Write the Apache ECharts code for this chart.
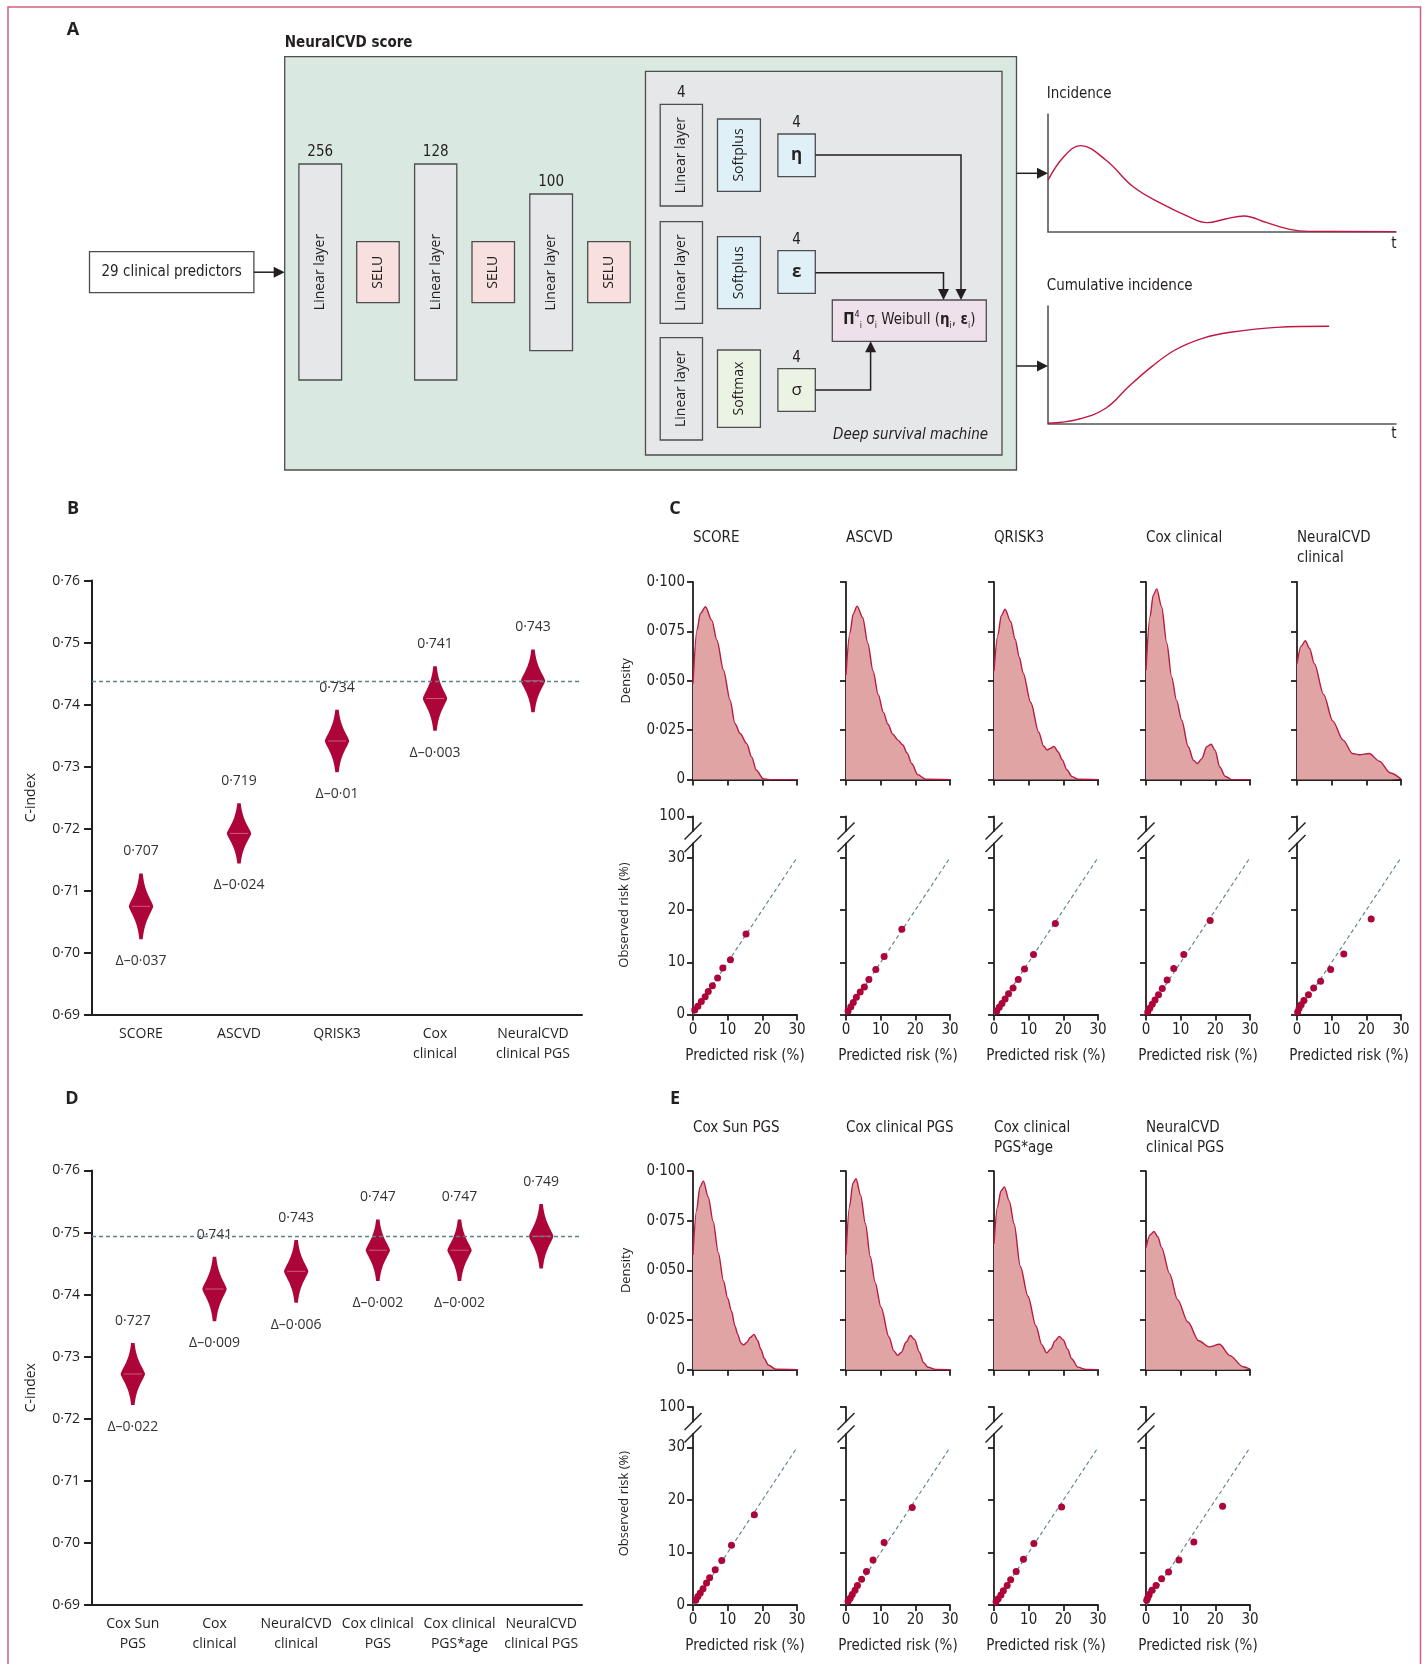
<!DOCTYPE html>
<html>
<head>
<meta charset="utf-8">
<title>NeuralCVD</title>
<script src="https://cdn.jsdelivr.net/npm/echarts@6.0.0/dist/echarts.min.js"></script>
<style>
  html, body { margin: 0; padding: 0; background: #fff; }
  #main { width: 1423px; height: 1664px; }
</style>
</head>
<body>
<div id="main"></div>
<script>
// ---------- data ----------

// panel A, schematic curves (x and y as fraction of the little axes)
var incidence = [[0, 0.44], [0.046, 0.64], [0.093, 0.733], [0.166, 0.611], [0.245, 0.383], [0.325, 0.241],
  [0.404, 0.128], [0.457, 0.077], [0.51, 0.108], [0.563, 0.134], [0.629, 0.077], [0.695, 0.02], [0.748, 0.003], [1, 0]];
var cumIncidence = [[0, 0], [0.086, 0.034], [0.166, 0.128], [0.232, 0.313], [0.298, 0.483], [0.365, 0.625],
  [0.444, 0.724], [0.524, 0.776], [0.657, 0.818], [0.808, 0.827]];

// panel B, C-index bootstrap spread
var bCats = ['SCORE', 'ASCVD', 'QRISK3', 'Cox\nclinical', 'NeuralCVD\nclinical PGS'];
var bValue = [0.707, 0.719, 0.734, 0.741, 0.743];
var bLow = [0.7022, 0.7144, 0.7291, 0.7358, 0.7388];
var bHigh = [0.7128, 0.7241, 0.7392, 0.7462, 0.7489];
var bDelta = [-0.037, -0.024, -0.01, -0.003, null];
var bRef = 0.7437;

// panel D
var dCats = ['Cox Sun\nPGS', 'Cox\nclinical', 'NeuralCVD\nclinical', 'Cox clinical\nPGS', 'Cox clinical\nPGS*age', 'NeuralCVD\nclinical PGS'];
var dValue = [0.727, 0.741, 0.743, 0.747, 0.747, 0.749];
var dLow = [0.7222, 0.7357, 0.7387, 0.7422, 0.7422, 0.7442];
var dHigh = [0.7322, 0.7461, 0.7488, 0.7521, 0.7521, 0.7546];
var dDelta = [-0.022, -0.009, -0.006, -0.002, -0.002, null];
var dRef = 0.7494;

// panel C, predicted risk densities  [risk %, density]
var densScore = [[0, 0.0486], [1.15, 0.0757], [2.1, 0.084], [3.6, 0.0875], [5.4, 0.0807], [6.9, 0.0706], [8.8, 0.0554],
  [10.7, 0.0402], [12.1, 0.0284], [13.6, 0.0233], [15.5, 0.0182], [16.9, 0.0115], [18.3, 0.0047], [20.2, 0.0005], [22, 0], [30, 0]];
var densAscvd = [[0, 0.053], [1.1, 0.074], [2.1, 0.084], [3.2, 0.0878], [4.8, 0.082], [6.3, 0.069], [7.8, 0.055], [9.3, 0.043],
  [10.8, 0.034], [12.1, 0.028], [13.5, 0.023], [15, 0.020], [16.4, 0.0175], [17.6, 0.0135], [19, 0.008], [20.7, 0.0025],
  [23, 0.0002], [30, 0]];
var densQrisk = [[0, 0.055], [1.1, 0.073], [2.1, 0.083], [3.2, 0.0862], [4.8, 0.080], [6.1, 0.071], [7.3, 0.062], [8.4, 0.054],
  [10.6, 0.039], [12.9, 0.024], [14.3, 0.017], [15.3, 0.015], [16.3, 0.0158], [17.3, 0.0168], [18.5, 0.014], [19.7, 0.010],
  [21, 0.005], [22.5, 0.0015], [24.2, 0.0002], [30, 0]];
var densCox = [[0, 0.0554], [1.15, 0.0824], [2.1, 0.0934], [3.1, 0.0965], [4.5, 0.0875], [6.0, 0.069], [7.4, 0.052], [8.8, 0.0402],
  [10.3, 0.030], [12.2, 0.0166], [13.7, 0.0098], [14.8, 0.0081], [16.1, 0.0106], [17.5, 0.0166], [18.8, 0.0179], [19.9, 0.0149],
  [21.3, 0.0064], [22.8, 0.0017], [24.7, 0], [30, 0]];
var densNeural = [[0, 0.0587], [1.2, 0.0675], [2.4, 0.0703], [3.6, 0.0665], [5.0, 0.0587], [7.7, 0.043], [10.3, 0.0297],
  [13.3, 0.020], [16, 0.0132], [18, 0.0126], [20.8, 0.0132], [23.8, 0.0093], [26.8, 0.0035], [30, 0.0003]];

// panel C, calibration deciles [predicted %, observed %]
var calScore = [[0.5, 0.9], [1.4, 1.6], [2.4, 2.5], [3.5, 3.4], [4.4, 4.4], [5.6, 5.5], [7.1, 7.0], [8.6, 8.9], [10.8, 10.5], [15.3, 15.4]];
var calAscvd = [[0.6, 0.7], [1.4, 1.5], [2.1, 2.3], [3.0, 3.3], [4.1, 4.3], [5.3, 5.3], [6.6, 6.7], [8.6, 8.6], [11.0, 11.1], [16.1, 16.3]];
var calQrisk = [[0.8, 0.7], [1.5, 1.4], [2.3, 2.1], [3.2, 3.0], [4.2, 4.0], [5.5, 5.1], [7.0, 6.7], [8.8, 8.7], [11.4, 11.5], [17.7, 17.4]];
var calCox = [[0.5, 0.5], [1.1, 1.2], [1.8, 2.0], [2.6, 2.8], [3.6, 3.8], [4.7, 5.0], [6.1, 6.6], [8.0, 8.8], [10.9, 11.5], [18.5, 18.0]];
var calNeural = [[0.2, 0.5], [0.6, 1.2], [1.2, 1.9], [2.0, 2.7], [3.3, 3.8], [4.8, 5.1], [6.8, 6.4], [9.7, 8.6], [13.5, 11.6], [21.4, 18.3]];

// panel E
var densSunPgs = [[0, 0.0578], [1, 0.08], [2, 0.092], [3.0, 0.095], [4.4, 0.087], [5.8, 0.0747], [7.3, 0.059], [8.8, 0.0447],
  [10, 0.036], [11.1, 0.0296], [12.1, 0.022], [12.9, 0.0178], [13.8, 0.0135], [14.6, 0.0125], [15.5, 0.0137], [16.5, 0.0162],
  [17.6, 0.0178], [18.6, 0.0148], [19.6, 0.0102], [20.6, 0.0055], [21.7, 0.0024], [23.9, 0.0002], [30, 0]];
var densCoxPgs = [[0, 0.0578], [1, 0.082], [2, 0.094], [2.9, 0.0962], [4.2, 0.088], [5.6, 0.0735], [7.0, 0.057], [8.4, 0.044],
  [10.1, 0.0315], [12.4, 0.0165], [13.8, 0.0095], [14.9, 0.0072], [16.0, 0.0088], [17.3, 0.0138], [18.6, 0.0172], [19.8, 0.0152],
  [21.1, 0.009], [22.4, 0.0035], [23.7, 0.0012], [25.9, 0.0001], [30, 0]];
var densCoxPgsAge = [[0, 0.0634], [1, 0.082], [2, 0.09], [3.0, 0.0921], [4.4, 0.085], [5.8, 0.0735], [7.6, 0.052], [9.8, 0.037],
  [12.1, 0.022], [13.8, 0.0125], [15.2, 0.0085], [16.4, 0.0105], [17.6, 0.0145], [18.8, 0.0168], [20, 0.015], [21.2, 0.0105],
  [22.4, 0.0055], [24.2, 0.0013], [26.5, 0.0001], [30, 0]];
var densNeuralPgs = [[0, 0.0615], [1.2, 0.068], [2.3, 0.0696], [3.4, 0.067], [4.5, 0.0615], [6.8, 0.0484], [9.1, 0.0353],
  [12.1, 0.024], [15.2, 0.0146], [18.2, 0.0115], [21.2, 0.0128], [24.2, 0.0071], [28, 0.0015], [30, 0.0003]];

var calSunPgs = [[0.8, 0.9], [1.4, 1.6], [2.1, 2.3], [2.9, 3.1], [3.9, 4.2], [4.8, 5.2], [6.4, 6.7], [8.3, 8.5], [11.1, 11.4], [17.7, 17.2]];
var calCoxPgs = [[0.6, 0.7], [1.2, 1.3], [1.8, 2.0], [2.6, 2.8], [3.3, 3.7], [4.5, 4.9], [5.9, 6.4], [7.8, 8.6], [11.0, 11.9], [19.1, 18.6]];
var calCoxPgsAge = [[0.6, 0.6], [1.2, 1.2], [2.0, 1.9], [2.7, 2.7], [3.8, 3.7], [4.8, 4.8], [6.4, 6.4], [8.5, 8.7], [11.5, 11.7], [19.5, 18.7]];
var calNeuralPgs = [[0.2, 0.9], [0.5, 1.4], [0.9, 2.0], [1.7, 2.8], [2.9, 3.7], [4.5, 5.0], [6.5, 6.3], [9.5, 8.6], [13.8, 12.0], [22.1, 18.8]];

var cTitles = ['SCORE', 'ASCVD', 'QRISK3', 'Cox clinical', 'NeuralCVD\nclinical'];
var cDensity = [densScore, densAscvd, densQrisk, densCox, densNeural];
var cCalib = [calScore, calAscvd, calQrisk, calCox, calNeural];
var eTitles = ['Cox Sun PGS', 'Cox clinical PGS', 'Cox clinical\nPGS*age', 'NeuralCVD\nclinical PGS'];
var eDensity = [densSunPgs, densCoxPgs, densCoxPgsAge, densNeuralPgs];
var eCalib = [calSunPgs, calCoxPgs, calCoxPgsAge, calNeuralPgs];

var riskTicks = [0, 10, 20, 30];
var calTicks = [0, 10, 20, 30];
var calTop = [100];
var calDiagonal = [[0, 0], [30, 30]];

// ---------- style ----------
var ink = '#231f20';
var crimson = '#ad0539';
var densLine = '#b81b42';
var densFill = '#e1a4a4';
var refColor = '#5f7f8d';
var narrow = "'Liberation Sans Narrow', 'DejaVu Sans Condensed', 'Roboto Condensed', Roboto, sans-serif";
var sans = "'Open Sans', 'Noto Sans', sans-serif";

var grids = [], xAxes = [], yAxes = [], series = [], graphics = [];

function dot(v) { return String(v).replace('.', '\u00b7'); }

function addGrid(grid, xa, ya) {
  var k = grids.length;
  grids.push(grid);
  xa.gridIndex = k;
  ya.gridIndex = k;
  xAxes.push(xa);
  yAxes.push(ya);
  return k;
}

// thin black value axis used in the small multiples
function valueAxis(o) {
  var a = {
    type: 'value',
    splitLine: { show: false },
    axisLine: { show: true, onZero: false, lineStyle: { color: ink, width: 1.8 } },
    axisTick: { show: true, length: 6, lineStyle: { color: ink, width: 1.8 } },
    axisLabel: { show: false, color: ink, fontFamily: narrow, fontSize: 15, margin: 8 }
  };
  for (var k in o) {
    if (o[k] && typeof o[k] === 'object' && !Array.isArray(o[k]) && a[k]) Object.assign(a[k], o[k]);
    else a[k] = o[k];
  }
  return a;
}

function text(x, y, s, font, extra) {
  var st = { text: s, font: font, fill: ink, textAlign: 'left', textVerticalAlign: 'middle' };
  for (var k in extra) st[k] = extra[k];
  graphics.push({ type: 'text', x: x, y: y, style: st, z: 10 });
}

function vtext(x, y, s, font) {
  graphics.push({ type: 'text', x: x, y: y, rotation: Math.PI / 2, z: 10,
    style: { text: s, font: font, fill: ink, textAlign: 'center', textVerticalAlign: 'middle' } });
}

// ---------- panel A : schematic ----------
function box(x, y, w, h, fill) {
  graphics.push({ type: 'rect', shape: { x: x, y: y, width: w, height: h }, z: 5,
    style: { fill: fill, stroke: '#4d4d4f', lineWidth: 1.3 } });
}
function poly(pts) {
  graphics.push({ type: 'polyline', shape: { points: pts }, z: 6, style: { stroke: ink, lineWidth: 1.5, fill: null } });
}
function head(x, y, dir) {
  var l = 11, s = 5.5, p;
  if (dir === 'right') p = [[x, y], [x - l, y - s], [x - l, y + s]];
  else if (dir === 'down') p = [[x, y], [x - s, y - l], [x + s, y - l]];
  else p = [[x, y], [x - s, y + l], [x + s, y + l]];
  graphics.push({ type: 'polygon', shape: { points: p }, z: 7, style: { fill: ink } });
}

var grey = '#e6e7e9', pink = '#f7e0dd', blue = '#e0f0f7', green = '#ebf4e4';

box(284.7, 56.7, 731.8, 413.3, '#d9e8e1');
box(645.5, 71.3, 356.5, 383.7, '#e6e7e9');
box(89.5, 251.7, 164.4, 41, '#fff');
text(171.7, 272.2, '29 clinical predictors', '15px ' + narrow, { textAlign: 'center' });
poly([[253.9, 272.2], [276, 272.2]]);
head(284.7, 272.2, 'right');
text(284.7, 43, 'NeuralCVD score', 'bold 15px ' + narrow);

var layerBoxes = [[298.9, 164, 42.7, 216, '256'], [414.6, 164, 42.2, 216, '128'], [529.8, 194, 42.7, 156.7, '100']];
layerBoxes.forEach(function (b) {
  box(b[0], b[1], b[2], b[3], grey);
  vtext(b[0] + b[2] / 2, b[1] + b[3] / 2, 'Linear layer', '14px ' + sans);
  text(b[0] + b[2] / 2, b[1] - 12, b[4], '15px ' + narrow, { textAlign: 'center' });
});
[356.7, 472, 587.7].forEach(function (x) {
  box(x, 241.7, 42.5, 61, pink);
  vtext(x + 21.2, 272.2, 'SELU', '14px ' + sans);
});
[[104.3, 101.7], [221.7, 101.6], [337.7, 102.3]].forEach(function (b) {
  box(660.2, b[0], 42.3, b[1], grey);
  vtext(681.3, b[0] + b[1] / 2, 'Linear layer', '14px ' + sans);
});
text(681.3, 93, '4', '15px ' + narrow, { textAlign: 'center' });
box(717.5, 119, 42.9, 72.3, blue); vtext(739, 155, 'Softplus', '14px ' + sans);
box(717.5, 236.7, 42.9, 72, blue); vtext(739, 272.7, 'Softplus', '14px ' + sans);
box(717.5, 350, 42.9, 77.3, green); vtext(739, 388.6, 'Softmax', '14px ' + sans);
[[134, blue, '\u03b7', 'bold'], [250.7, blue, '\u03b5', 'bold'], [368.7, green, '\u03c3', 'normal']].forEach(function (b) {
  box(777.9, b[0], 37.4, 42.7, b[1]);
  text(796.6, b[0] + 21.3, b[2], b[3] + ' 17px ' + sans, { textAlign: 'center' });
  text(796.6, b[0] - 11, '4', '15px ' + narrow, { textAlign: 'center' });
});
box(832.3, 300, 154, 41.3, '#efe1eb');
graphics.push({ type: 'text', x: 909.3, y: 320.6, z: 10, style: {
  text: '{b|\u03a0}{sup|4}{sub|i} \u03c3{sub|i} Weibull ({b|\u03b7}{sub|i}, {b|\u03b5}{sub|i})',
  font: '15px ' + narrow, fill: ink, textAlign: 'center', textVerticalAlign: 'middle', lineHeight: 20,
  rich: {
    b: { fontWeight: 'bold', fontSize: 15, fontFamily: narrow, lineHeight: 20 },
    sup: { fontSize: 9, fontFamily: narrow, verticalAlign: 'top', lineHeight: 20 },
    sub: { fontSize: 9, fontFamily: narrow, verticalAlign: 'bottom', lineHeight: 20 }
  }
} });
poly([[815.3, 155], [961, 155], [961, 290]]); head(961, 300, 'down');
poly([[815.3, 272.7], [943.5, 272.7], [943.5, 290]]); head(943.5, 300, 'down');
poly([[815.3, 390], [870.6, 390], [870.6, 351]]); head(870.6, 341.3, 'up');
text(988, 435, 'Deep survival machine', 'italic 15px ' + narrow, { textAlign: 'right' });

poly([[1016.5, 173.3], [1038, 173.3]]); head(1048, 173.3, 'right');
poly([[1016.5, 366], [1038, 366]]); head(1048, 366, 'right');
text(1046.7, 94, 'Incidence', '15px ' + narrow);
text(1046.7, 286, 'Cumulative incidence', '15px ' + narrow);
text(1394, 244, 't', '15px ' + narrow, { textAlign: 'center' });
text(1394, 434, 't', '15px ' + narrow, { textAlign: 'center' });

[[114.3, 117.4, incidence], [306, 117.3, cumIncidence]].forEach(function (g) {
  var noTicks = { axisTick: { show: false }, axisLine: { show: true, onZero: false, lineStyle: { color: '#555', width: 1.6 } } };
  var k = addGrid({ left: 1048, top: g[0], width: 348, height: g[1] },
    valueAxis(Object.assign({ min: 0, max: 1 }, noTicks)),
    valueAxis(Object.assign({ min: 0, max: 1 }, noTicks)));
  series.push({ type: 'line', xAxisIndex: k, yAxisIndex: k, data: g[2], smooth: 0.4, showSymbol: false,
    lineStyle: { color: '#c0163f', width: 1.4 }, z: 3 });
});

// ---------- panels B and D : C-index spreads ----------
function violinPanel(cats, lows, highs, vals, deltas, ref, top) {
  var k = addGrid({ left: 92, top: top, width: 490, height: 434.3 },
    {
      type: 'category', data: cats, boundaryGap: true,
      axisLine: { lineStyle: { color: ink, width: 2 } },
      axisTick: { length: 8, alignWithLabel: false, lineStyle: { color: ink, width: 2 } },
      axisLabel: { color: ink, fontFamily: sans, fontSize: 14, lineHeight: 20, margin: 9, interval: 0 }
    },
    {
      type: 'value', min: 0.69, max: 0.76, interval: 0.01,
      splitLine: { show: false },
      axisLine: { show: true, lineStyle: { color: ink, width: 2 } },
      axisTick: { show: true, length: 8, lineStyle: { color: ink, width: 2 } },
      axisLabel: { color: ink, fontFamily: sans, fontSize: 14, margin: 12,
        formatter: function (v) { return dot(v.toFixed(2)); } },
      name: 'C-index', nameLocation: 'middle', nameGap: 54,
      nameTextStyle: { fontFamily: sans, fontSize: 14, color: ink }
    });

  // dashed reference line at the best model
  series.push({ type: 'line', xAxisIndex: k, yAxisIndex: k, data: [], z: 1,
    markLine: { silent: true, symbol: 'none', precision: 4, label: { show: false }, animation: false,
      lineStyle: { color: refColor, type: [4, 3], width: 1.3 }, data: [{ yAxis: ref }] } });

  var data = lows.map(function (lo, i) { return [i, lo, highs[i]]; });
  series.push({
    type: 'custom', xAxisIndex: k, yAxisIndex: k, z: 3, data: data,
    encode: { x: 0, y: [1, 2] },
    renderItem: function (params, api) {
      var i = api.value(0), lo = api.value(1), hi = api.value(2);
      var mid = (lo + hi) / 2, sd = (hi - lo) / 6;
      var right = [], left = [];
      for (var s = 0; s <= 60; s++) {
        var v = lo + (hi - lo) * s / 60;
        var z = Math.abs(v - mid) / sd;
        var w = 11.5 * Math.exp(-0.55 * Math.pow(z, 1.35)) + 0.7;
        var p = api.coord([i, v]);
        right.push([p[0] + w, p[1]]);
        left.unshift([p[0] - w, p[1]]);
      }
      var c = api.coord([i, mid]), t = api.coord([i, hi]), b = api.coord([i, lo]);
      var kids = [
        { type: 'polygon', shape: { points: right.concat(left) }, style: { fill: crimson } },
        { type: 'line', shape: { x1: c[0] - 9, y1: c[1], x2: c[0] + 9, y2: c[1] },
          style: { stroke: 'rgba(255,255,255,0.35)', lineWidth: 1 } },
        { type: 'text', x: t[0], y: t[1] - 22, z2: 5,
          style: { text: dot(vals[params.dataIndex]), font: '14px ' + sans, fill: '#333',
            textAlign: 'center', textVerticalAlign: 'middle', backgroundColor: '#fff', padding: [1, 3] } }
      ];
      var d = deltas[params.dataIndex];
      if (d !== null) {
        kids.push({ type: 'text', x: b[0], y: b[1] + 22,
          style: { text: '\u0394\u2013' + dot(Math.abs(d)), font: '14px ' + sans, fill: '#333',
            textAlign: 'center', textVerticalAlign: 'middle' } });
      }
      return { type: 'group', children: kids };
    }
  });
}

violinPanel(bCats, bLow, bHigh, bValue, bDelta, bRef, 580.6);
violinPanel(dCats, dLow, dHigh, dValue, dDelta, dRef, 1170.5);

// ---------- panels C and E : density + calibration ----------
var colW = 104;
function smallMultiples(titles, dens, cals, geo) {
  var ymax = 30 * (geo.cal0 - geo.calLow) / (geo.cal0 - geo.cal30);
  for (var j = 0; j < titles.length; j++) {
    var x0 = geo.cols[j], first = j === 0;
    graphics.push({ type: 'text', x: x0, y: geo.titleY, z: 10,
      style: { text: titles[j], font: '15px ' + narrow, fill: ink, textAlign: 'left', textVerticalAlign: 'top', lineHeight: 20 } });

    // density of predicted risk
    var k = addGrid({ left: x0, top: geo.densTop, width: colW, height: geo.densBottom - geo.densTop },
      valueAxis({ min: 0, max: 30, interval: 10 }),
      valueAxis({ min: 0, max: 0.1, interval: 0.025,
        axisLabel: { show: first, formatter: function (v) { return v === 0 ? '0' : dot(v.toFixed(3)); } },
        name: first ? 'Density' : '', nameLocation: 'middle', nameGap: 60,
        nameTextStyle: { fontFamily: sans, fontSize: 13, color: ink } }));
    series.push({ type: 'line', xAxisIndex: k, yAxisIndex: k, data: dens[j], smooth: 0.3, smoothMonotone: 'x',
      showSymbol: false, lineStyle: { color: densLine, width: 1.4 }, areaStyle: { color: densFill, opacity: 1 }, z: 2 });

    // calibration, upper stub of the broken axis (100)
    addGrid({ left: x0, top: geo.cal100, width: colW, height: geo.calBreak - geo.cal100 },
      valueAxis({ show: false, min: 0, max: 30 }),
      valueAxis({ min: 90, max: 100,
        axisTick: { customValues: calTop },
        axisLabel: { show: first, customValues: calTop } }));

    // calibration, main part 0-30
    var kc = addGrid({ left: x0, top: geo.calLow, width: colW, height: geo.cal0 - geo.calLow },
      valueAxis({ min: 0, max: 30, interval: 10,
        axisLabel: { show: true, customValues: riskTicks },
        axisTick: { customValues: riskTicks },
        name: 'Predicted risk (%)', nameLocation: 'middle', nameGap: 34,
        nameTextStyle: { fontFamily: narrow, fontSize: 15, color: ink } }),
      valueAxis({ min: 0, max: ymax,
        axisTick: { customValues: calTicks },
        axisLabel: { show: first, customValues: calTicks } }));
    series.push({ type: 'line', xAxisIndex: kc, yAxisIndex: kc, data: calDiagonal, showSymbol: false, z: 2,
      lineStyle: { color: refColor, type: [4, 3], width: 1.1 } });
    series.push({ type: 'scatter', xAxisIndex: kc, yAxisIndex: kc, data: cals[j], symbolSize: 7, z: 3,
      itemStyle: { color: crimson, opacity: 1 } });

    // break marks on the y axis
    [geo.calBreak, geo.calLow].forEach(function (yc) {
      graphics.push({ type: 'line', z: 10, shape: { x1: x0 - 8.5, y1: yc + 8.5, x2: x0 + 8.5, y2: yc - 8.5 },
        style: { stroke: ink, lineWidth: 1.4 } });
    });
  }
  vtext(624, geo.obsY, 'Observed risk (%)', '13px ' + sans);
}

var colsX = [693, 846, 994, 1146, 1297];
smallMultiples(cTitles, cDensity, cCalib, { cols: colsX, titleY: 528, densTop: 582, densBottom: 779.6,
  cal100: 816.5, calBreak: 831, calLow: 843.5, cal30: 857.7, cal0: 1014.6, obsY: 915 });
smallMultiples(eTitles, eDensity, eCalib, { cols: colsX, titleY: 1118, densTop: 1171.2, densBottom: 1369.7,
  cal100: 1407, calBreak: 1421.5, calLow: 1434, cal30: 1447.6, cal0: 1605, obsY: 1503.6 });

// panel letters and frame
text(73, 30, 'A', 'bold 18px ' + sans, { textAlign: 'center' });
text(73, 509, 'B', 'bold 18px ' + sans, { textAlign: 'center' });
text(675, 509, 'C', 'bold 18px ' + sans, { textAlign: 'center' });
text(72, 1099, 'D', 'bold 18px ' + sans, { textAlign: 'center' });
text(675, 1099, 'E', 'bold 18px ' + sans, { textAlign: 'center' });
graphics.push({ type: 'rect', shape: { x: 8, y: 7, width: 1412.5, height: 1720 }, z: 0,
  style: { fill: null, stroke: '#d2607c', lineWidth: 1.5 } });

var chart = echarts.init(document.getElementById('main'));
chart.setOption({
  animation: false,
  backgroundColor: '#fff',
  textStyle: { fontFamily: sans },
  grid: grids,
  xAxis: xAxes,
  yAxis: yAxes,
  series: series,
  graphic: { elements: graphics }
});
</script>
</body>
</html>
